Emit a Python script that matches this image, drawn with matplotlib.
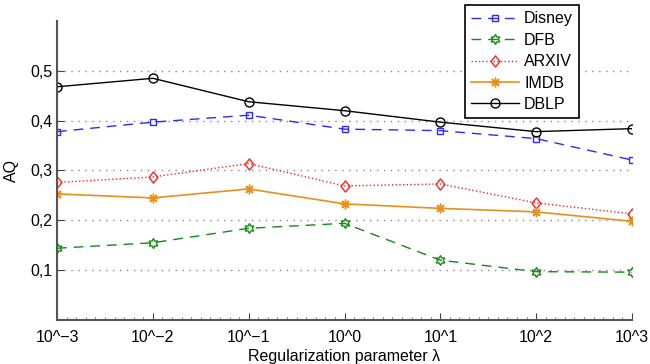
import numpy as np
import matplotlib
matplotlib.use("Agg")
from matplotlib import pyplot as plt
from matplotlib.path import Path
from matplotlib.ticker import MultipleLocator

# data
lambdas = ["10^\u22123", "10^\u22122", "10^\u22121", "10^0", "10^1", "10^2", "10^3"]
disney = [0.378, 0.397, 0.411, 0.383, 0.380, 0.364, 0.321]
dfb = [0.144, 0.155, 0.184, 0.194, 0.120, 0.097, 0.096]
arxiv = [0.276, 0.287, 0.314, 0.269, 0.273, 0.235, 0.213]
imdb = [0.253, 0.245, 0.263, 0.233, 0.224, 0.217, 0.198]
dblp = [0.468, 0.485, 0.438, 0.420, 0.397, 0.378, 0.384]

plt.rcParams["font.family"] = ["Liberation Sans", "DejaVu Sans"]

# hexagram marker (matlab style)
ang = np.pi / 2 + np.arange(12) * np.pi / 6
rad = np.where(np.arange(12) % 2 == 0, 1.0, 1 / np.sqrt(3))
verts = list(zip(rad * np.cos(ang), rad * np.sin(ang)))
verts.append(verts[0])
hexagram = Path(verts, [Path.MOVETO] + [Path.LINETO] * 11 + [Path.CLOSEPOLY])

# diamond a bit taller than wide, like matlab's
diamond = Path([(0, 1), (0.8, 0), (0, -1), (-0.8, 0), (0, 1)],
               [Path.MOVETO, Path.LINETO, Path.LINETO, Path.LINETO, Path.CLOSEPOLY])

fig = plt.figure(figsize=(6.5, 3.64), dpi=100)
ax = fig.add_axes([0.0877, 0.1209, 0.8846, 0.8214])

x = np.arange(len(lambdas))
ax.plot(x, disney, "--", color="#2a2aff", marker="s", mfc="none", ms=5, mew=1, lw=1, dashes=(7, 5), label="Disney")
ax.plot(x, dfb, "--", color="#138a13", marker=hexagram, mfc="none", ms=7, mew=1, lw=1, dashes=(7, 5), label="DFB")
ax.plot(x, arxiv, ":", color="#ff2020", marker=diamond, mfc="none", ms=8, mew=1, lw=1, label="ARXIV")
ax.plot(x, imdb, "-", color="#e8901a", marker=(8, 2, 0), ms=7, mew=1, lw=1.2, label="IMDB")
ax.plot(x, dblp, "-", color="black", marker="o", mfc="none", ms=6.5, mew=1, lw=1, label="DBLP")

ax.set_xlim(0, 6)
ax.set_ylim(0, 0.6)
ax.set_xticks(x)
ax.set_xticklabels(lambdas)
ax.xaxis.set_minor_locator(MultipleLocator(0.1))
yt = [0.1, 0.2, 0.3, 0.4, 0.5]
ax.set_yticks(yt)
ax.set_yticklabels(["0,1", "0,2", "0,3", "0,4", "0,5"])
for v in yt:
    ax.plot([0, 6], [v, v], color="#888888", lw=1, dashes=(1, 4), zorder=0)

ax.tick_params(direction="in", labelsize=11.5, length=5, width=0.8, color="#444444")
ax.tick_params(axis="x", pad=7)
ax.tick_params(which="minor", direction="in", length=2, width=0.5, color="#444444")
ax.tick_params(axis="y", which="minor", left=False)
for s in ["top", "right"]:
    ax.spines[s].set_visible(False)
for s in ["left", "bottom"]:
    ax.spines[s].set_color("#555555")
    ax.spines[s].set_linewidth(1.5)

ax.set_xlabel("Regularization parameter \u03bb", fontsize=11.5, labelpad=3)
ax.set_ylabel("AQ", fontsize=11.5, labelpad=8)

leg = ax.legend(loc="upper left", bbox_to_anchor=(465 / 650, 1 - 5 / 364), bbox_transform=fig.transFigure,
                fancybox=False, edgecolor="black", fontsize=11.5, handlelength=3.0, labelspacing=0.4,
                borderpad=0.4, handletextpad=0.3, borderaxespad=0)
leg.get_frame().set_linewidth(1.2)
leg.get_frame().set_alpha(1)

plt.savefig("out.png", dpi=100)
